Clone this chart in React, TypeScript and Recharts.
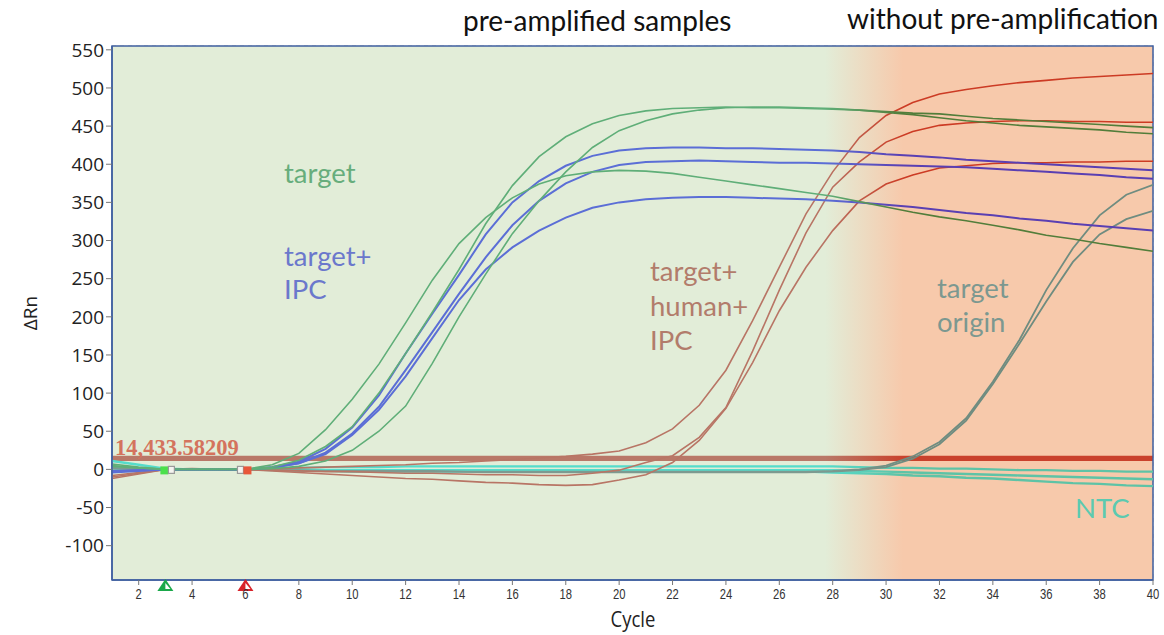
import React from 'react';
import {
  LineChart,
  Line,
  XAxis,
  YAxis,
  CartesianGrid,
  ReferenceArea,
  ReferenceDot,
} from 'recharts';

// amplification cycles
const cycles = [
  1, 2, 3, 4, 5, 6, 7, 8, 9, 10, 11, 12, 13, 14, 15, 16, 17, 18, 19, 20,
  21, 22, 23, 24, 25, 26, 27, 28, 29, 30, 31, 32, 33, 34, 35, 36, 37, 38, 39, 40,
];

// "target" replicates (green)
const target1 = [
  4, 2, 0, 0, 0, 0, 3, 12, 30, 56, 100, 152, 206, 262, 322, 372, 410, 436, 453, 464,
  470, 473, 474, 475, 474, 474, 473, 472, 471, 469, 467, 466, 463, 460, 458, 456, 454, 452, 450, 448,
];
const target2 = [
  7, 3, 0, 0, 0, 0, 6, 21, 52, 92, 138, 192, 248, 296, 330, 356, 374, 385, 390, 392,
  391, 388, 383, 378, 373, 368, 363, 358, 351, 344, 337, 331, 326, 320, 314, 307, 302, 296, 291, 286,
];
const target3 = [
  5, 2, 0, 0, 0, 0, 1, 4, 11, 25, 50, 83, 139, 200, 256, 309, 352, 390, 422, 444,
  457, 466, 471, 474, 475, 475, 474, 473, 471, 468, 465, 461, 457, 454, 451, 449, 447, 445, 442, 440,
];

// "target+IPC" replicates (blue)
const ipc1 = [
  -3, -1, 0, 0, 0, 0, 3, 10, 27, 55, 97, 152, 204, 255, 308, 350, 378, 398, 411, 418,
  421, 422, 422, 421, 421, 420, 419, 418, 416, 413, 411, 409, 406, 404, 402, 400, 398, 396, 394, 392,
];
const ipc2 = [
  -4, -2, 0, 0, 0, 0, 2, 8, 22, 47, 82, 130, 180, 230, 278, 320, 352, 375, 390, 399,
  403, 404, 405, 404, 403, 402, 402, 401, 400, 399, 398, 397, 396, 394, 392, 390, 388, 386, 383, 381,
];
const ipc3 = [
  -2, -1, 0, 0, 0, 0, 2, 8, 20, 45, 78, 122, 172, 222, 262, 291, 313, 330, 343, 350,
  354, 356, 357, 357, 356, 355, 354, 352, 350, 347, 344, 340, 336, 333, 329, 326, 322, 319, 316, 313,
];

// "target+human+IPC" replicates (brown / red)
const human1 = [
  -8, -4, 0, 1, 0, 0, 1, 2, 3, 4, 5, 6, 8, 9, 11, 13, 15, 17, 20, 24,
  35, 53, 84, 130, 195, 265, 335, 390, 435, 464, 481, 492, 498, 503, 507, 510, 513, 515, 517, 519,
];
const human2 = [
  -10, -5, 0, 0, 0, 0, -1, -2, -3, -3, -4, -5, -5, -6, -7, -7, -8, -8, -5, -1,
  9, 18, 42, 81, 155, 235, 310, 370, 403, 429, 443, 451, 454, 456, 457, 457, 456, 456, 455, 455,
];
const human3 = [
  -12, -6, 0, 0, 0, 0, -2, -4, -6, -8, -10, -12, -13, -15, -17, -18, -20, -21, -20, -14,
  -7, 9, 38, 80, 140, 208, 265, 313, 352, 374, 386, 395, 398, 401, 402, 402, 403, 403, 404, 404,
];

// "target origin" without pre-amplification (grey)
const origin1 = [
  2, 1, 0, 0, 0, 0, -1, -1, -2, -2, -2, -2, -2, -3, -3, -3, -3, -3, -3, -3,
  -3, -3, -3, -3, -3, -3, -3, -2, 0, 5, 17, 36, 67, 115, 170, 235, 290, 333, 360, 373,
];
const origin2 = [
  1, 0, 0, 0, 0, 0, -1, -2, -2, -3, -3, -3, -3, -3, -4, -4, -4, -4, -4, -4,
  -4, -4, -4, -4, -4, -4, -4, -3, -1, 3, 14, 33, 64, 112, 165, 220, 272, 308, 328, 339,
];

// no-template controls (teal)
const ntc1 = [
  11, 6, 1, 0, 0, 0, 1, 2, 3, 3, 3, 4, 4, 4, 4, 4, 4, 4, 4, 4,
  4, 4, 4, 4, 4, 4, 4, 4, 3, 2, 2, 1, 1, 0, -1, -1, -2, -2, -3, -3,
];
const ntc2 = [
  3, 1, 0, 0, 0, 0, 0, -1, -1, -1, -1, -1, -1, -1, -1, -1, -1, -1, -1, -1,
  -1, -1, -1, -1, -1, -1, -1, -1, -2, -3, -4, -5, -6, -7, -8, -9, -10, -11, -12, -13,
];
const ntc3 = [
  1, 0, 0, 0, 0, 0, -1, -2, -2, -3, -3, -3, -3, -3, -3, -3, -3, -3, -3, -3,
  -3, -3, -3, -3, -3, -3, -3, -4, -5, -6, -8, -9, -11, -12, -14, -16, -18, -19, -21, -22,
];

const xTicks = [2, 4, 6, 8, 10, 12, 14, 16, 18, 20, 22, 24, 26, 28, 30, 32, 34, 36, 38, 40];
const yTicks = [-100, -50, 0, 50, 100, 150, 200, 250, 300, 350, 400, 450, 500, 550];

const threshold = 14.43358209;
const baselineStart = 3;
const baselineEnd = 6;

const data = cycles.map((cycle, i) => ({
  cycle,
  target1: target1[i],
  target2: target2[i],
  target3: target3[i],
  ipc1: ipc1[i],
  ipc2: ipc2[i],
  ipc3: ipc3[i],
  human1: human1[i],
  human2: human2[i],
  human3: human3[i],
  origin1: origin1[i],
  origin2: origin2[i],
  ntc1: ntc1[i],
  ntc2: ntc2[i],
  ntc3: ntc3[i],
}));

const series = [
  { key: 'ntc1', grad: 'tealGrad', width: 2.4 },
  { key: 'ntc2', grad: 'tealGrad', width: 2.4 },
  { key: 'ntc3', grad: 'tealGrad', width: 2.4 },
  { key: 'origin1', grad: 'grayGrad', width: 1.8 },
  { key: 'origin2', grad: 'grayGrad', width: 1.8 },
  { key: 'human1', grad: 'redGrad', width: 1.6 },
  { key: 'human2', grad: 'redGrad', width: 1.6 },
  { key: 'human3', grad: 'redGrad', width: 1.6 },
  { key: 'ipc1', grad: 'blueGrad', width: 2 },
  { key: 'ipc2', grad: 'blueGrad', width: 2 },
  { key: 'ipc3', grad: 'blueGrad', width: 2 },
  { key: 'target1', grad: 'greenGrad', width: 1.6 },
  { key: 'target2', grad: 'greenGrad', width: 1.6 },
  { key: 'target3', grad: 'greenGrad', width: 1.6 },
];

// colour shift where the "without pre-amplification" zone starts (cycle ~28-30.5)
const fadeA = 0.685;
const fadeB = 0.76;

const Grad = ({ id, from, to }: { id: string; from: string; to: string }) => (
  <linearGradient id={id} x1="0" y1="0" x2="1" y2="0">
    <stop offset={0} stopColor={from} />
    <stop offset={fadeA} stopColor={from} />
    <stop offset={fadeB} stopColor={to} />
    <stop offset={1} stopColor={to} />
  </linearGradient>
);

const XTick = (props: any) => {
  const { x, y, payload } = props;
  return (
    <text
      transform={`translate(${x},${y + 12}) scale(0.75,1)`}
      textAnchor="middle"
      fontSize={15}
      fontFamily="'Liberation Sans', Arial, sans-serif"
      fill="#333"
    >
      {payload.value}
    </text>
  );
};

const StartMarker = (props: any) => {
  const { cx, cy } = props;
  return (
    <g>
      <rect x={cx - 5} y={cy - 3} width={8} height={8} fill="#4be04b" />
      <rect x={cx + 3} y={cy - 3} width={6} height={7} fill="#f4f4f0" stroke="#999" strokeWidth={1.2} />
    </g>
  );
};

const EndMarker = (props: any) => {
  const { cx, cy } = props;
  return (
    <g>
      <rect x={cx - 8} y={cy - 3} width={6} height={7} fill="#f4f4f0" stroke="#999" strokeWidth={1.2} />
      <rect x={cx - 2} y={cy - 3} width={8} height={8} fill="#e8573a" />
    </g>
  );
};

const Triangle = (color: string) => (props: any) => {
  const { cx, cy } = props;
  return (
    <g>
      <polygon points={`${cx - 8},${cy + 11} ${cx + 8},${cy + 11} ${cx},${cy - 1}`} fill={color} />
      <polygon points={`${cx},${cy + 9} ${cx + 5},${cy + 9} ${cx},${cy + 3}`} fill="#fff" />
    </g>
  );
};

const labelFont = "Lato, 'Open Sans', sans-serif";

const App: React.FC = () => {
  return (
    <div style={{ position: 'absolute', left: 0, top: 0, width: 1164, height: 635, background: '#fff' }}>
      <LineChart
        width={1164}
        height={635}
        data={data}
        margin={{ top: 46, right: 11, left: 0, bottom: 0 }}
      >
        <defs>
          <Grad id="bgGrad" from="#e2edd8" to="#f7c9ab" />
          <Grad id="greenGrad" from="#5fae78" to="#527d3a" />
          <Grad id="blueGrad" from="#5b6ed6" to="#5a3fb2" />
          <Grad id="redGrad" from="#b87565" to="#cc3b24" />
          <Grad id="grayGrad" from="#7d9a90" to="#6f8c80" />
          <Grad id="tealGrad" from="#55dccb" to="#5ec3a6" />
          <Grad id="thrGrad" from="#b97868" to="#c9412c" />
        </defs>
        <ReferenceArea x1={1} x2={40} y1={-145} y2={555} fill="url(#bgGrad)" fillOpacity={1} stroke="none" ifOverflow="hidden" />
        <CartesianGrid strokeDasharray="4 4" stroke="#b9b9b0" strokeOpacity={0.8} />
        <XAxis
          type="number"
          dataKey="cycle"
          domain={[1, 40]}
          ticks={xTicks}
          allowDataOverflow
          height={55}
          tick={<XTick />}
          tickLine={{ stroke: '#777' }}
          tickSize={5}
          axisLine={{ stroke: '#3f5fa0', strokeWidth: 1.5 }}
        />
        <YAxis
          type="number"
          domain={[-145, 555]}
          ticks={yTicks}
          allowDataOverflow
          width={112}
          tick={{ fontSize: 19, fill: '#222', fontFamily: "'Open Sans', sans-serif" }}
          tickLine={{ stroke: '#777' }}
          tickSize={6}
          axisLine={{ stroke: '#3f5fa0', strokeWidth: 1.5 }}
        />
        {series.map((s) => (
          <Line
            key={s.key}
            type="linear"
            dataKey={s.key}
            stroke={`url(#${s.grad})`}
            strokeWidth={s.width}
            dot={false}
            activeDot={false}
            isAnimationActive={false}
          />
        ))}
        <ReferenceArea
          x1={1}
          x2={40}
          y1={threshold - 3.6}
          y2={threshold + 3.6}
          fill="url(#thrGrad)"
          fillOpacity={1}
          stroke="none"
        />
        <ReferenceArea x1={1} x2={40} y1={-145} y2={555} fill="none" stroke="#3f5fa0" strokeWidth={1.5} />
        <ReferenceDot x={baselineStart} y={0} r={4} shape={StartMarker} ifOverflow="visible" />
        <ReferenceDot x={baselineEnd} y={0} r={4} shape={EndMarker} ifOverflow="visible" />
        <ReferenceDot x={baselineStart} y={-145} r={4} shape={Triangle('#1aa84a')} ifOverflow="visible" />
        <ReferenceDot x={baselineEnd} y={-145} r={4} shape={Triangle('#d8232a')} ifOverflow="visible" />
      </LineChart>
      <svg
        width={1164}
        height={635}
        style={{ position: 'absolute', left: 0, top: 0, pointerEvents: 'none' }}
      >
        <g fontFamily={labelFont} fontSize={28} fill="#111">
          <text x={463} y={31}>pre-amplified samples</text>
          <text x={847} y={29}>without pre-amplification</text>
        </g>
        <g fontFamily={labelFont} fontSize={27.5}>
          <text x={284} y={183} fill="#67ad7c">target</text>
          <text x={284} y={266} fill="#6b78cc">target+</text>
          <text x={284} y={299} fill="#6b78cc">IPC</text>
          <text x={650} y={281} fill="#b27c6b">target+</text>
          <text x={650} y={316} fill="#b27c6b">human+</text>
          <text x={650} y={350} fill="#b27c6b">IPC</text>
          <text x={937} y={298} fill="#7c9890">target</text>
          <text x={937} y={332} fill="#7c9890">origin</text>
          <text x={1075} y={518} fill="#5ccab0">NTC</text>
        </g>
        <text
          x={115}
          y={455}
          fontFamily="'Liberation Serif', 'Times New Roman', serif"
          fontWeight="bold"
          fontSize={22.5}
          fill="#d4735d"
        >
          14,433.58209
        </text>
        <text
          transform="translate(37,313) rotate(-90)"
          textAnchor="middle"
          fontFamily="'Open Sans', sans-serif"
          fontSize={19}
          fill="#222"
        >
          ΔRn
        </text>
        <text
          transform="translate(633,627) scale(0.88,1)"
          textAnchor="middle"
          fontFamily="'Open Sans', sans-serif"
          fontSize={21}
          fill="#222"
        >
          Cycle
        </text>
      </svg>
    </div>
  );
};

export default App;
